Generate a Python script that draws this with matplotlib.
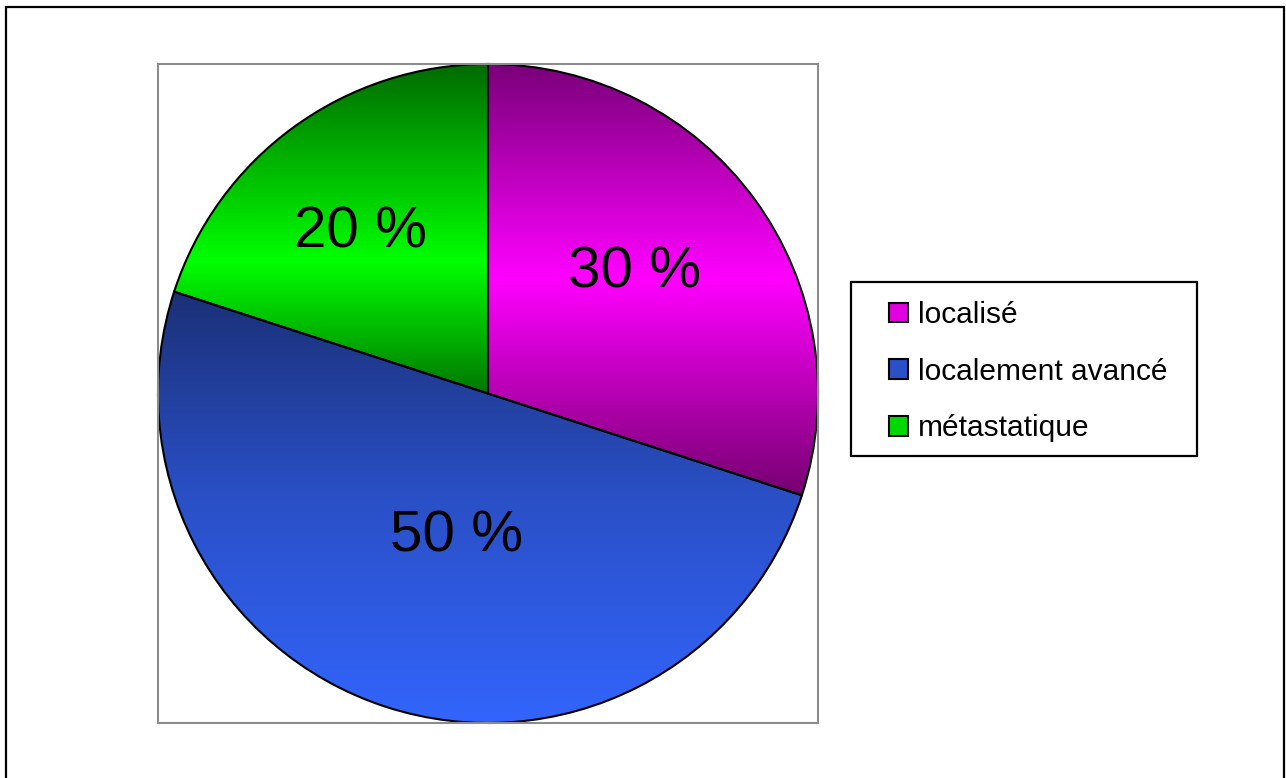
import numpy as np
import matplotlib
matplotlib.use("Agg")
import matplotlib.pyplot as plt
import matplotlib.patches as mpatches
from matplotlib.colors import LinearSegmentedColormap

plt.rcParams['font.family'] = ['Liberation Sans', 'DejaVu Sans']

# Données
categories = ['localisé', 'localement avancé', 'métastatique']
valeurs = [30, 50, 20]
etiquettes = ['30 %', '50 %', '20 %']

# Dégradés verticaux (haut -> bas) pour chaque part
degrades = [
    [(0.0, '#780078'), (0.5, '#ff00ff'), (1.0, '#760070')],
    [(0.0, '#1b3077'), (0.45, '#2a4fc4'), (1.0, '#3366ff')],
    [(0.0, '#006a00'), (0.6, '#00ff00'), (1.0, '#007800')],
]
couleurs_legende = ['#e000e0', '#2a50c8', '#00d800']
# position des étiquettes : distance (fraction du rayon) et décalage angulaire (degrés)
dist_etiquettes = [0.576, 0.443, 0.621]
decal_angle = [3.7, 5.5, 2.3]

fig = plt.figure(figsize=(12.86, 7.78), dpi=100)

# cadre extérieur
fig.patches.append(mpatches.Rectangle((6 / 1286, -0.05), 1278 / 1286, 1 - 7 / 778 + 0.05,
                                      transform=fig.transFigure, fill=False,
                                      edgecolor='black', linewidth=1.6))

ax = fig.add_axes([158 / 1286, 1 - 723 / 778, 660 / 1286, 659 / 778])

wedges, _ = ax.pie(valeurs, startangle=90, counterclock=False, radius=1,
                   colors=couleurs_legende,
                   wedgeprops=dict(edgecolor='black', linewidth=1.5))

for w, stops, lab, d, da in zip(wedges, degrades, etiquettes, dist_etiquettes, decal_angle):
    verts = w.get_path().vertices
    x0, x1 = verts[:, 0].min(), verts[:, 0].max()
    y0, y1 = verts[:, 1].min(), verts[:, 1].max()
    cmap = LinearSegmentedColormap.from_list('g', stops)
    grad = np.linspace(0, 1, 256).reshape(-1, 1)
    im = ax.imshow(grad, cmap=cmap, extent=(x0, x1, y0, y1), origin='upper',
                   aspect='auto', zorder=w.get_zorder() - 0.1, interpolation='bilinear')
    im.set_clip_path(w)
    w.set_facecolor('none')
    ang = np.deg2rad((w.theta1 + w.theta2) / 2 + da)
    ax.text(d * np.cos(ang), d * np.sin(ang), lab, ha='center', va='center',
            fontsize=42, color='black')

ax.set_xlim(-1, 1)
ax.set_ylim(-1, 1)
ax.set_aspect('auto')
ax.set_frame_on(True)
ax.set_xticks([])
ax.set_yticks([])
for s in ax.spines.values():
    s.set_edgecolor('#8c8c8c')
    s.set_linewidth(1.5)
for w in wedges:
    w.set_clip_on(False)

# légende
fig.patches.append(mpatches.Rectangle((851 / 1286, 1 - 456 / 778), 346 / 1286, 174 / 778,
                                      transform=fig.transFigure, fill=False,
                                      edgecolor='black', linewidth=1.6))
handles = [mpatches.Patch(facecolor=c, edgecolor='black', linewidth=1.5, label=n)
           for n, c in zip(categories, couleurs_legende)]
fig.legend(handles=handles, loc='upper left', bbox_to_anchor=(889 / 1286, 1 - 301 / 778),
           frameon=False, fontsize=21.5, handlelength=0.64, handleheight=0.64,
           handletextpad=0.33, labelspacing=0.96, borderpad=0, borderaxespad=0)

fig.savefig('out.png', dpi=100)
